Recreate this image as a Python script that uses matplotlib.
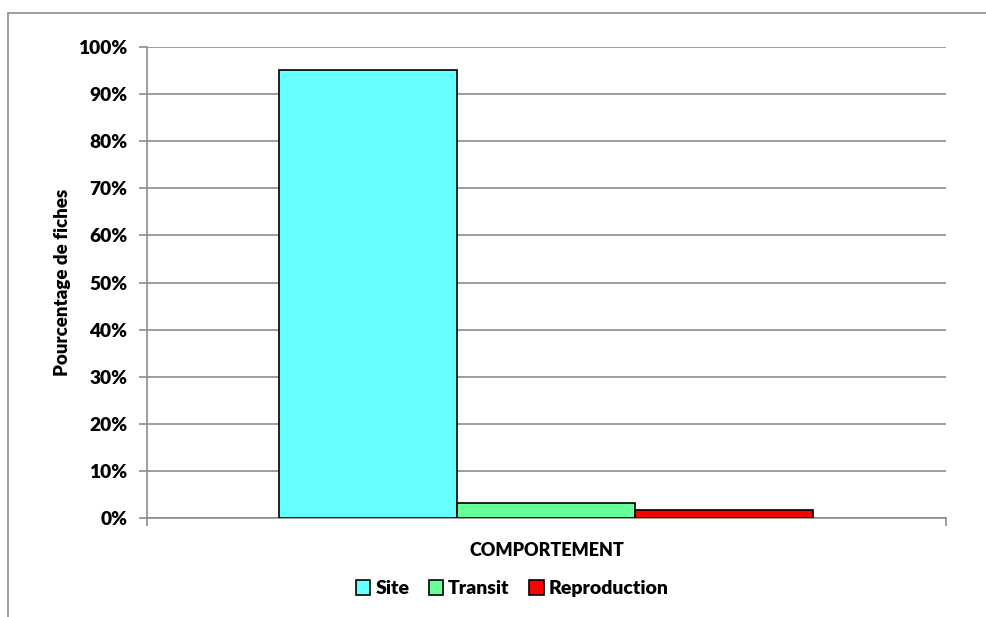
import matplotlib.pyplot as plt
import matplotlib.patches as mpatches
from matplotlib.ticker import PercentFormatter

# données
categories = ['Site', 'Transit', 'Reproduction']
valeurs = [95.1, 3.1, 1.8]
couleurs = ['#66FFFF', '#66FF99', '#FF0000']

plt.rcParams['font.family'] = ['Lato', 'DejaVu Sans']
plt.rcParams['font.weight'] = 'heavy'

fig = plt.figure(figsize=(9.87, 6.17), dpi=100)
ax = fig.add_axes([147 / 987, 1 - 518 / 617, 799 / 987, 471 / 617])

# cadre extérieur (coupé à droite et en bas comme sur l'original)
fig.patches.append(mpatches.Rectangle((8 / 987, -0.1), 1.2, 1 - 13 / 617 + 0.1,
                                      transform=fig.transFigure, fill=False,
                                      edgecolor='#8c8c8c', linewidth=1.2))

largeur = 178 / 799
for i, (cat, val, col) in enumerate(zip(categories, valeurs, couleurs)):
    ax.bar(0.5 + (i - 1) * largeur, val, width=largeur, color=col,
           edgecolor='black', linewidth=1.2, label=cat, zorder=3)

ax.set_xlim(0, 1)
ax.set_ylim(0, 100)
ax.set_yticks(range(0, 101, 10))
ax.yaxis.set_major_formatter(PercentFormatter(decimals=0))
ax.set_xticks([0, 1])
ax.set_xticklabels(['', ''])
ax.grid(axis='y', color='#8c8c8c', linewidth=1.2, zorder=0)

for s in ['top', 'right']:
    ax.spines[s].set_visible(False)
for s in ['left', 'bottom']:
    ax.spines[s].set_color('#8c8c8c')
    ax.spines[s].set_linewidth(1.2)
ax.tick_params(axis='both', color='#8c8c8c', width=1.2, length=6)
ax.tick_params(axis='y', labelsize=13.8, pad=8)

ax.set_ylabel('Pourcentage de fiches', fontsize=13.5, fontweight='heavy', labelpad=5)
ax.set_xlabel('COMPORTEMENT', fontsize=13, fontweight='heavy', labelpad=8)

ax.legend(loc='upper center', bbox_to_anchor=(0.457, -0.095), ncol=3, frameon=False,
          fontsize=14, handlelength=0.75, handleheight=0.75, handletextpad=0.25,
          columnspacing=1.0)

fig.savefig('out.png', dpi=100)
